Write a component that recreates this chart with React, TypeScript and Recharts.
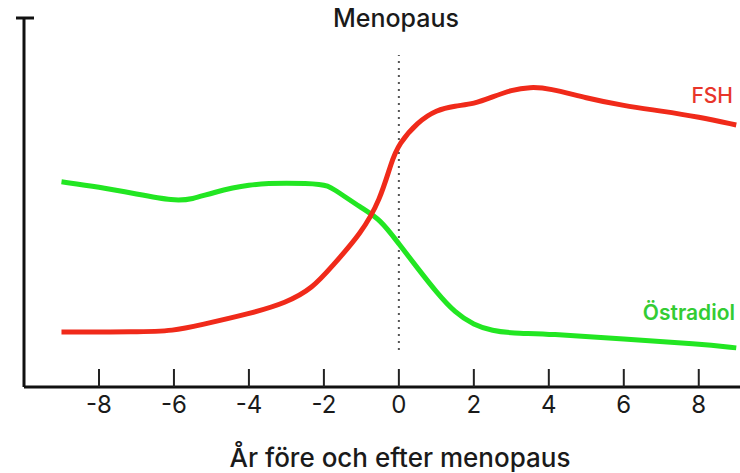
import React from 'react';
import { LineChart, Line, XAxis, YAxis, ReferenceLine } from 'recharts';

const fshYears = [-9, -7, -6, -5.3, -4, -3, -2.3, -1.8, -1, -0.5, -0.2, 0, 0.5, 1, 1.5, 2, 2.5, 3, 3.5, 4, 5, 6, 7, 8, 9];
const fshValues = [14.9, 14.9, 15.2, 16.8, 19.8, 22.8, 26.8, 32.5, 41.7, 50.7, 61.0, 65.9, 71.8, 75.1, 76.2, 76.7, 78.6, 80.5, 81.3, 81.0, 78.3, 76.2, 74.8, 73.2, 71.0];

const estYears = [-9, -8, -7, -6, -5.5, -5, -4, -3, -2, -1.8, -1, -0.5, 0, 0.5, 1, 1.5, 2, 2.5, 3, 4, 6, 8, 9];
const estValues = [55.6, 54.2, 52.3, 50.4, 50.9, 52.6, 55.0, 55.3, 55.0, 54.1, 48.5, 45.5, 38.8, 32.2, 25.7, 20.1, 16.8, 15.2, 14.6, 14.4, 13.0, 11.7, 10.6];

const xTicks = [-8, -6, -4, -2, 0, 2, 4, 6, 8];
const menopauseYear = 0;

const fshData = fshYears.map((x, i) => ({ x, v: fshValues[i] }));
const estData = estYears.map((x, i) => ({ x, v: estValues[i] }));

const FONT = 'Inter, "Noto Sans", sans-serif';

const XTick = (props: any) => {
  const { x, y, payload } = props;
  return (
    <g>
      <line x1={x} x2={x} y1={y - 18} y2={y} stroke="#222" strokeWidth={2} />
      <text x={x} y={y + 26} textAnchor="middle" fontSize={24} fill="#1a1a1a" fontFamily={FONT}>
        {payload.value}
      </text>
    </g>
  );
};

const YTick = (props: any) => {
  const { x, y } = props;
  return <line x1={x - 8} x2={x + 10} y1={y} y2={y} stroke="#111" strokeWidth={3} />;
};

export default function App() {
  return (
    <div style={{ position: 'absolute', left: 0, top: 0, width: 740, height: 473, background: '#fff' }}>
      <LineChart width={740} height={473} margin={{ top: 18, right: 0, bottom: 56, left: 0 }}>
        <XAxis
          dataKey="x"
          type="number"
          domain={[-10, 9.1]}
          ticks={xTicks}
          allowDataOverflow
          axisLine={{ stroke: '#111', strokeWidth: 3 }}
          tickLine={false}
          tickSize={0}
          tickMargin={0}
          height={30}
          tick={<XTick />}
          interval={0}
        />
        <YAxis
          type="number"
          domain={[0, 100]}
          ticks={[100]}
          width={24}
          axisLine={{ stroke: '#111', strokeWidth: 3 }}
          tickLine={false}
          tickSize={0}
          tickMargin={0}
          tick={<YTick />}
        />
        <ReferenceLine
          segment={[{ x: menopauseYear, y: 10 }, { x: menopauseYear, y: 90 }]}
          stroke="#555"
          strokeWidth={2}
          strokeDasharray="2 5"
        />
        <Line data={estData} dataKey="v" type="basis" stroke="#22e622" strokeWidth={5} dot={false} isAnimationActive={false} />
        <Line data={fshData} dataKey="v" type="basis" stroke="#f02a1a" strokeWidth={5} dot={false} isAnimationActive={false} />
      </LineChart>
      <svg width={740} height={473} style={{ position: 'absolute', left: 0, top: 0, pointerEvents: 'none' }}>
        <text x={396} y={27} textAnchor="middle" fontFamily={FONT} fontSize={25} fontWeight={500} fill="#1a1a1a">
          Menopaus
        </text>
        <text x={733} y={103} textAnchor="end" fontFamily={FONT} fontSize={21} fontWeight={500} fill="#e8352a">
          FSH
        </text>
        <text x={735} y={320} textAnchor="end" fontFamily={FONT} fontSize={21} fontWeight={600} fill="#33cc33">
          Östradiol
        </text>
        <text x={400} y={467} textAnchor="middle" fontFamily={FONT} fontSize={26} fontWeight={500} fill="#1a1a1a">
          År före och efter menopaus
        </text>
      </svg>
    </div>
  );
}
